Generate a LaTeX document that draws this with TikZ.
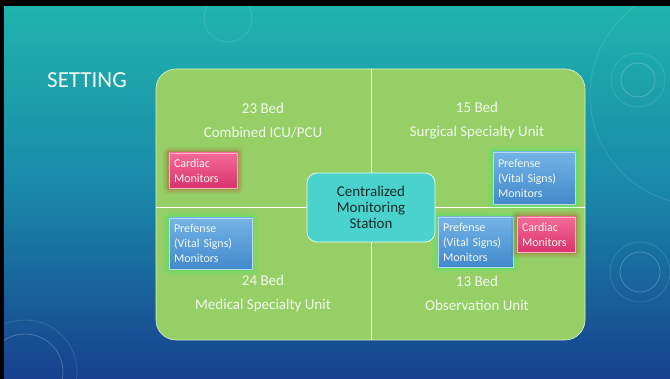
\documentclass[tikz,border=0pt]{standalone}
\usepackage{fontspec}
\setmainfont{Carlito}
\definecolor{bgtop}{HTML}{1FB4AD}
\definecolor{bgmid}{HTML}{1987A9}
\definecolor{bgbot}{HTML}{17408E}
\definecolor{grn}{HTML}{95CF66}
\definecolor{tqs}{HTML}{4AD3CC}
\definecolor{pnktop}{HTML}{F46A98}
\definecolor{pnkbot}{HTML}{D9336D}
\definecolor{blutop}{HTML}{74B3E6}
\definecolor{blubot}{HTML}{4289CC}
\definecolor{txtw}{HTML}{F2F8EC}
\definecolor{txtd}{HTML}{1A2B2C}
\tikzset{
    lbl/.style={text=txtw,font=\fontsize{15}{24}\selectfont,align=center,inner sep=0pt},
    mon/.style={text=txtw,font=\fontsize{12}{15}\selectfont,align=left,inner xsep=5pt,inner ysep=0pt,anchor=center,line join=round},
    cardbox/.style={mon,top color=pnktop,bottom color=pnkbot,draw=pnktop!50!white,line width=0.5pt,
        preaction={draw=red!70!black,line width=12pt,opacity=0.07},
        preaction={draw=red!70!black,line width=8pt,opacity=0.09},
        preaction={draw=red!70!black,line width=4pt,opacity=0.12}},
    prefbox/.style={mon,top color=blutop,bottom color=blubot,draw=blutop!50!white,line width=0.5pt,
        preaction={draw=green!60!cyan,line width=12pt,opacity=0.07},
        preaction={draw=green!60!cyan,line width=8pt,opacity=0.09},
        preaction={draw=green!60!cyan,line width=4pt,opacity=0.12}},
    hub/.style={fill=tqs,draw=white!85!tqs,line width=0.8pt,rounded corners=10pt,text=txtd,
        font=\fontsize{15}{16}\selectfont,align=center,minimum width=128pt,minimum height=69pt},
    deco/.style={draw=white,opacity=0.22,line width=0.8pt}
}
\begin{document}
\begin{tikzpicture}[x=1pt,y=-1pt]
    % slide background
    \fill[black] (0,0) rectangle (670,379);
    \shade[shading angle=-12,top color=bgtop,bottom color=bgbot,middle color=bgmid] (4,7) rectangle (670,379);
    \useasboundingbox (0,0) rectangle (670,379);
    \begin{scope}
        \clip (4,7) rectangle (670,379);
        \draw[deco] (638,80) circle (17);
        \draw[deco,opacity=0.12] (638,80) circle (27);
        \draw[deco,opacity=0.12] (700,95) circle (110);
        \draw[deco] (640,272) circle (20);
        \draw[deco,opacity=0.12] (640,272) circle (30);
        \draw[deco] (25,372) circle (38);
        \draw[deco,opacity=0.12] (25,372) circle (52);
        \draw[deco,opacity=0.12] (228,18) circle (24);
    \end{scope}
    \node[text=txtw,font=\fontsize{23}{23}\selectfont,anchor=base west,inner sep=0pt] (title) at (47,88) {SETTING};
    % quadrants
    \fill[grn,draw=white!70!grn,line width=0.6pt,rounded corners=20pt] (156,69) rectangle (585,340);
    \draw[white,line width=0.8pt] (371,69) -- (371,340);
    \draw[white,line width=0.8pt] (156,207.5) -- (585,207.5);
    \node[lbl] (icu) at (263,121) {23 Bed\\Combined ICU/PCU};
    \node[lbl] (surg) at (477,121) {15 Bed\\Surgical Specialty Unit};
    \node[lbl] (med) at (263,293.5) {24 Bed\\Medical Specialty Unit};
    \node[lbl] (obs) at (477,293.5) {13 Bed\\Observation Unit};
    % monitors
    \node[cardbox,text width=58pt,minimum height=35pt] (cardicu) at (203,170.5) {Cardiac\\Monitors};
    \node[prefbox,text width=72pt,minimum height=52pt] (prefsurg) at (534,178) {Prefense\\(Vital Signs)\\Monitors};
    \node[prefbox,text width=73pt,minimum height=51pt] (prefmed) at (210.5,243.5) {Prefense\\(Vital Signs)\\Monitors};
    \node[prefbox,text width=65pt,minimum height=50pt] (prefobs) at (475.5,242) {Prefense\\(Vital Signs)\\Monitors};
    \node[cardbox,text width=48pt,minimum height=35pt] (cardobs) at (546,234.5) {Cardiac\\Monitors};
    % station
    \node[hub] (station) at (371,207.5) {Centralized\\Monitoring\\Station};
\end{tikzpicture}
\end{document}
